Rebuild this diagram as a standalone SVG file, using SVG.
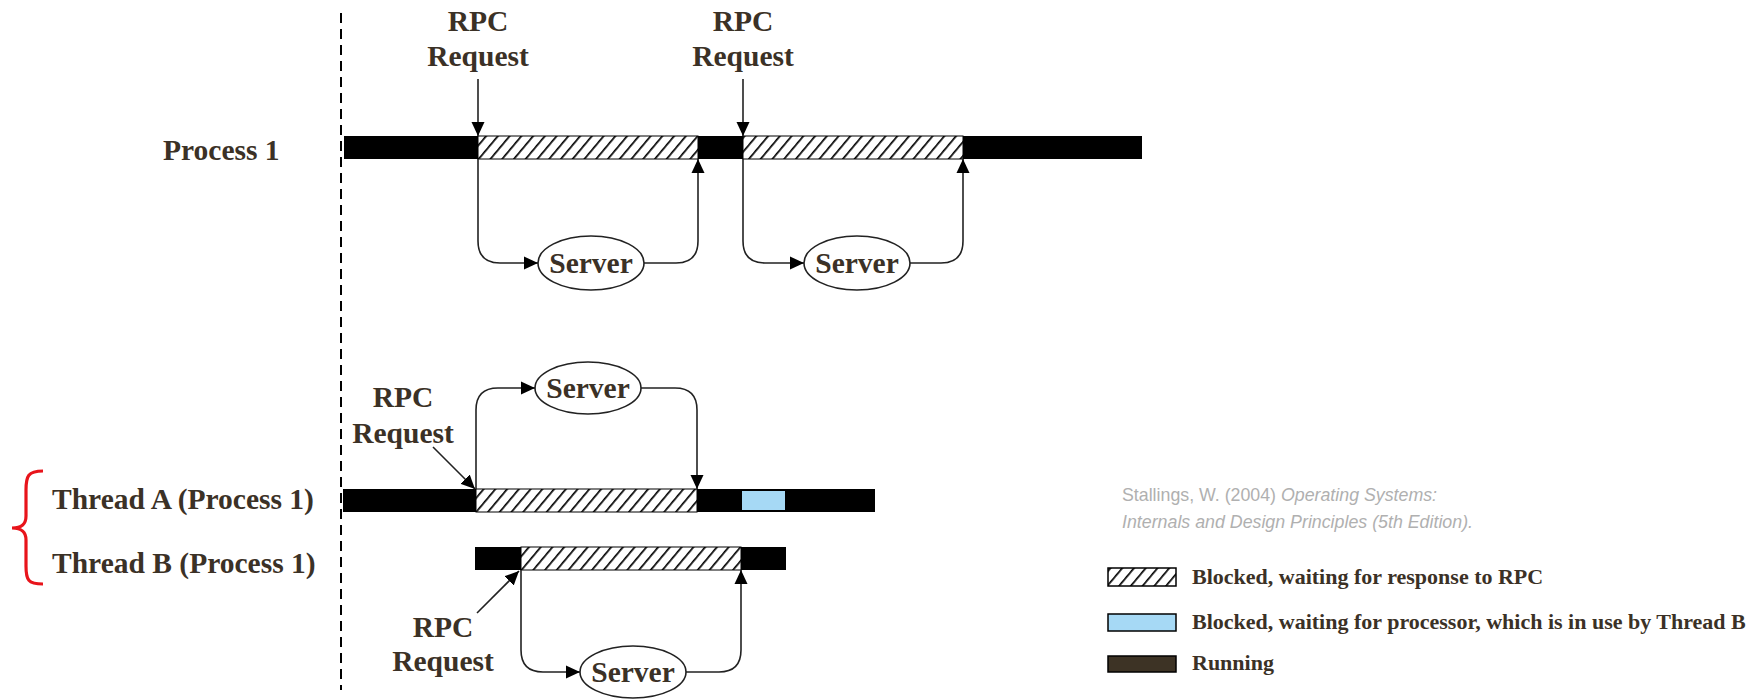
<svg xmlns="http://www.w3.org/2000/svg" width="1759" height="699" viewBox="0 0 1759 699">
  <style>
    .lbl { font-family: "Liberation Serif", "Times New Roman", serif; font-weight: bold; font-size: 29.5px; fill: #3b3126; }
    .mid { text-anchor: middle; }
    .leg { font-family: "Liberation Serif", "Times New Roman", serif; font-weight: bold; font-size: 22px; fill: #3b3126; }
    .cite { font-family: "Liberation Sans Narrow", "Liberation Sans", Arial, sans-serif; font-size: 19px; fill: #b0b0b0; }
    .run { fill: #000; }
    .wait { fill: url(#hatch); stroke: #000; stroke-width: 1; }
    .cpu { fill: #a6d9f5; }
    .conn { fill: none; stroke: #222; stroke-width: 1.6; }
    .srv { fill: #fff; stroke: #222; stroke-width: 1.6; }
  </style>
  <defs>
    <pattern id="hatch" patternUnits="userSpaceOnUse" width="9" height="9" patternTransform="rotate(40)">
      <rect width="9" height="9" fill="#fff"/>
      <line x1="0" y1="0" x2="0" y2="9" stroke="#000" stroke-width="3.4"/>
    </pattern>
    <marker id="arrow" markerUnits="userSpaceOnUse" markerWidth="14" markerHeight="14" refX="14" refY="7" orient="auto" viewBox="0 0 14 14">
      <path d="M0,0.5 L14,7 L0,13.5 z" fill="#000"/>
    </marker>
  </defs>

  <!-- time origin -->
  <line x1="341" y1="13" x2="341" y2="690" stroke="#000" stroke-width="2" stroke-dasharray="10,6"/>

  <!-- single-threaded process -->
  <g id="process1">
    <text class="lbl" x="163" y="160">Process 1</text>
    <rect class="run" x="344" y="136" width="798" height="23"/>
    <rect class="wait" x="478" y="136" width="220" height="23"/>
    <rect class="wait" x="743" y="136" width="220" height="23"/>
  </g>
  <g id="rpc1">
    <text class="lbl mid" x="478" y="31">RPC</text>
    <text class="lbl mid" x="478" y="66">Request</text>
  </g>
  <g id="rpc2">
    <text class="lbl mid" x="743" y="31">RPC</text>
    <text class="lbl mid" x="743" y="66">Request</text>
  </g>
  <g id="server1">
    <ellipse class="srv" cx="591" cy="263" rx="53" ry="27"/>
    <text class="lbl mid" x="591" y="273">Server</text>
  </g>
  <g id="server2">
    <ellipse class="srv" cx="857" cy="263" rx="53" ry="27"/>
    <text class="lbl mid" x="857" y="273">Server</text>
  </g>

  <!-- multithreaded process -->
  <g id="threadA">
    <text class="lbl" x="52" y="509">Thread A (Process 1)</text>
    <rect class="run" x="343" y="489" width="532" height="23"/>
    <rect class="wait" x="476" y="489" width="221" height="23"/>
    <rect class="cpu" x="742" y="491" width="43" height="19"/>
  </g>
  <g id="threadB">
    <text class="lbl" x="52" y="573">Thread B (Process 1)</text>
    <rect class="run" x="475" y="547" width="311" height="23"/>
    <rect class="wait" x="521" y="547" width="220" height="23"/>
  </g>
  <g id="rpcA">
    <text class="lbl mid" x="403" y="407">RPC</text>
    <text class="lbl mid" x="403" y="443">Request</text>
  </g>
  <g id="rpcB">
    <text class="lbl mid" x="443" y="637">RPC</text>
    <text class="lbl mid" x="443" y="671">Request</text>
  </g>
  <g id="serverA">
    <ellipse class="srv" cx="588" cy="388" rx="53" ry="26"/>
    <text class="lbl mid" x="588" y="398">Server</text>
  </g>
  <g id="serverB">
    <ellipse class="srv" cx="633" cy="672" rx="53" ry="26"/>
    <text class="lbl mid" x="633" y="682">Server</text>
  </g>

  <!-- thread grouping brace -->
  <path id="brace" d="M43,471 C28,471 26,476 26,490 L26,516 C26,524 22,528 12,528 C22,528 26,532 26,540 L26,566 C26,580 28,584 43,584" fill="none" stroke="#e8141b" stroke-width="3.2"/>

  <!-- call / return paths -->
  <g id="connectors">
    <line class="conn" x1="478" y1="79" x2="478" y2="136" marker-end="url(#arrow)"/>
    <line class="conn" x1="743" y1="79" x2="743" y2="136" marker-end="url(#arrow)"/>
    <path class="conn" d="M478,159 V241 Q478,263 500,263 H538" marker-end="url(#arrow)"/>
    <path class="conn" d="M644,263 H676 Q698,263 698,241 V159" marker-end="url(#arrow)"/>
    <path class="conn" d="M743,159 V241 Q743,263 765,263 H804" marker-end="url(#arrow)"/>
    <path class="conn" d="M910,263 H941 Q963,263 963,241 V159" marker-end="url(#arrow)"/>

    <line class="conn" x1="433" y1="447" x2="475" y2="489" marker-end="url(#arrow)"/>
    <path class="conn" d="M476,489 V410 Q476,388 498,388 H535" marker-end="url(#arrow)"/>
    <path class="conn" d="M641,388 H675 Q697,388 697,410 V489" marker-end="url(#arrow)"/>

    <line class="conn" x1="477" y1="613" x2="519" y2="571" marker-end="url(#arrow)"/>
    <path class="conn" d="M521,570 V650 Q521,672 543,672 H580" marker-end="url(#arrow)"/>
    <path class="conn" d="M686,672 H719 Q741,672 741,650 V570" marker-end="url(#arrow)"/>
  </g>

  <!-- source -->
  <g id="citation">
    <text class="cite" x="1122" y="501" textLength="315" lengthAdjust="spacingAndGlyphs">Stallings, W. (2004) <tspan font-style="italic">Operating Systems:</tspan></text>
    <text class="cite" x="1122" y="528" font-style="italic" textLength="351" lengthAdjust="spacingAndGlyphs">Internals and Design Principles (5th Edition).</text>
  </g>

  <!-- key -->
  <g id="legend">
    <rect x="1108" y="568" width="68" height="18" fill="url(#hatch)" stroke="#000" stroke-width="1.5"/>
    <text class="leg" x="1192" y="584">Blocked, waiting for response to RPC</text>
    <rect x="1108" y="614" width="68" height="17" fill="#a6d9f5" stroke="#000" stroke-width="1.5"/>
    <text class="leg" x="1192" y="629">Blocked, waiting for processor, which is in use by Thread B</text>
    <rect x="1108" y="656" width="68" height="16" fill="#3d3325" stroke="#000" stroke-width="1.5"/>
    <text class="leg" x="1192" y="670">Running</text>
  </g>
</svg>
